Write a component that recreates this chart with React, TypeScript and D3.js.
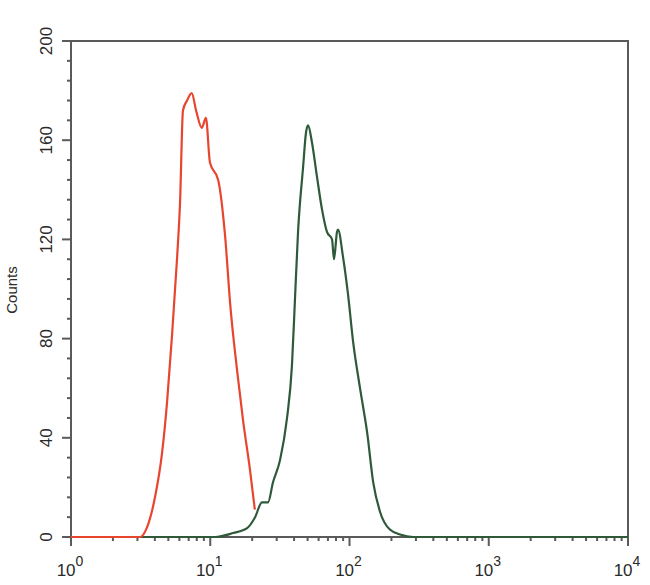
import React from "react";
import * as d3 from "d3";

const W = 650;
const H = 585;
const margin = { left: 71, right: 22, top: 41, bottom: 48 };

// Red histogram (control): fluorescence intensity vs counts
const redX = [1, 3.13, 3.52, 4.01, 4.51, 4.89, 5.31, 5.77, 6.07, 6.37, 6.81, 7.36, 7.91, 8.69, 9.31, 9.95, 11.4, 12.8, 13.9, 15.6, 17.2, 19.3, 20.9];
const redY = [0, 0, 4, 16, 34, 54, 81, 112, 135, 172, 176, 179, 172, 165, 169, 151, 144, 121, 94, 67, 47, 27, 11];

// Green histogram (sample)
const greenX = [1, 10.8, 14.6, 18.4, 21.0, 23.5, 26.0, 28.2, 31.7, 35.6, 38.6, 40.6, 42.7, 46.4, 48.7, 50.4, 53.8, 58.5, 63.5, 68.9, 74.9, 77.4, 81.3, 82.7, 89.8, 97.5, 106, 119, 134, 148, 166, 195, 231, 286, 10000];
const greenY = [0, 0, 1.6, 3.6, 8, 14, 14, 22, 31, 48, 69, 96, 123, 149, 163, 166, 159, 145, 132, 123, 120, 112, 123, 124, 113, 98, 79, 60, 42, 22, 10, 3, 1, 0, 0];

const xDecades = [0, 1, 2, 3, 4];
const yTicks = [0, 40, 80, 120, 160, 200];

export default function App() {
  const x = d3.scaleLog().domain([1, 10000]).range([margin.left, W - margin.right]);
  const y = d3.scaleLinear().domain([0, 200]).range([H - margin.bottom, margin.top]);

  const line = d3
    .line<[number, number]>()
    .x((d) => x(d[0]))
    .y((d) => y(d[1]))
    .curve(d3.curveMonotoneX);

  const redPts = redX.map((v, i) => [v, redY[i]] as [number, number]);
  const greenPts = greenX.map((v, i) => [v, greenY[i]] as [number, number]);

  const minorX: number[] = [];
  for (let e = 0; e < 4; e++) {
    for (let m = 2; m <= 9; m++) minorX.push(m * Math.pow(10, e));
  }
  const minorY = d3.range(0, 201, 8).filter((v) => v % 40 !== 0);

  const y0 = y(0);
  const axisColor = "#5a5a5a";
  const font = "'Liberation Sans', Arial, sans-serif";

  return (
    <svg width={W} height={H} style={{ position: "absolute", left: 0, top: 0, background: "#fff" }}>
      <rect x={0} y={0} width={W} height={H} fill="#fff" />

      {/* frame */}
      <rect
        x={margin.left}
        y={margin.top}
        width={W - margin.left - margin.right}
        height={H - margin.top - margin.bottom}
        fill="none"
        stroke={axisColor}
        strokeWidth={2}
      />

      {/* x ticks */}
      {xDecades.map((e) => (
        <line key={"xm" + e} x1={x(Math.pow(10, e))} x2={x(Math.pow(10, e))} y1={y0} y2={y0 + 9} stroke={axisColor} strokeWidth={2} />
      ))}
      {minorX.map((v) => (
        <line key={"xn" + v} x1={x(v)} x2={x(v)} y1={y0} y2={y0 + 4} stroke={axisColor} strokeWidth={2} />
      ))}
      {xDecades.map((e) => (
        <text key={"xl" + e} x={x(Math.pow(10, e)) - 1} y={576} fontFamily={font} fontSize={17} fill="#2a2a2a" textAnchor="middle">
          10
          <tspan fontSize={14} dy={-10}>
            {e}
          </tspan>
        </text>
      ))}

      {/* y ticks */}
      {yTicks.map((v) => (
        <line key={"ym" + v} x1={margin.left - 9} x2={margin.left} y1={y(v)} y2={y(v)} stroke={axisColor} strokeWidth={2} />
      ))}
      {minorY.map((v) => (
        <line key={"yn" + v} x1={margin.left - 4} x2={margin.left} y1={y(v)} y2={y(v)} stroke={axisColor} strokeWidth={2} />
      ))}
      {yTicks.map((v) => (
        <text
          key={"yl" + v}
          transform={`translate(52, ${y(v)}) rotate(-90)`}
          fontFamily={font}
          fontSize={17}
          fill="#2a2a2a"
          textAnchor="middle"
        >
          {v}
        </text>
      ))}
      <text transform={`translate(17, 290) rotate(-90)`} fontFamily={font} fontSize={15} fill="#2a2a2a" textAnchor="middle">
        Counts
      </text>

      {/* curves */}
      <path d={line(greenPts) || ""} fill="none" stroke="#2e5a3a" strokeWidth={2.2} strokeLinejoin="round" />
      <path d={line(redPts) || ""} fill="none" stroke="#e8452f" strokeWidth={2.2} strokeLinejoin="round" />
    </svg>
  );
}
